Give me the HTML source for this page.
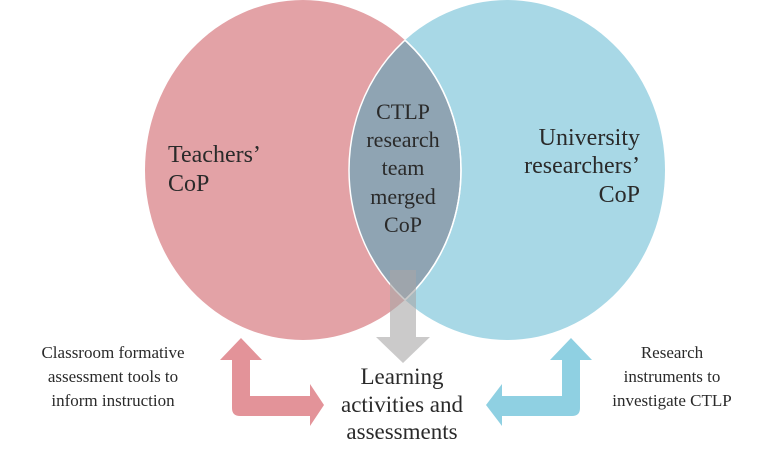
<!DOCTYPE html>
<html><head><style>
body{margin:0;background:#fff;}
svg text{font-family:"Liberation Serif",serif;fill:#2a2a2a;}
</style></head><body>
<svg width="772" height="448" viewBox="0 0 772 448" xmlns="http://www.w3.org/2000/svg">
<defs>
<clipPath id="cl"><ellipse cx="303" cy="170" rx="158" ry="170"/></clipPath>
</defs>
<ellipse cx="303" cy="170" rx="158" ry="170" fill="#e3a2a6"/>
<ellipse cx="507" cy="170" rx="158" ry="170" fill="#a8d8e6"/>
<ellipse cx="507" cy="170" rx="158" ry="170" fill="#8fa4b3" clip-path="url(#cl)"/>
<ellipse cx="507" cy="170" rx="158" ry="170" fill="none" stroke="#fff" stroke-width="1.5" clip-path="url(#cl)"/>
<ellipse cx="303" cy="170" rx="158" ry="170" fill="none" stroke="#fff" stroke-width="1.5" clip-path="url(#cr)"/>
<clipPath id="cr"><ellipse cx="507" cy="170" rx="158" ry="170"/></clipPath>
<ellipse cx="303" cy="170" rx="158" ry="170" fill="none" stroke="#fff" stroke-width="1.5" clip-path="url(#cr)"/>
<!-- gray arrow -->
<polygon points="390,270 416,270 416,337 430,337 403,363 376,337 390,337" fill="#a9a7a7" opacity="0.6"/>
<!-- pink L arrow -->
<path d="M232,360 L232,408 Q232,416 240,416 L310,416 L310,426 L324,405 L310,384 L310,396 L250,396 L250,360 L262,360 L241,338 L220,360 Z" fill="#e39399"/>
<!-- blue L arrow -->
<path d="M580,360 L580,408 Q580,416 572,416 L502,416 L502,426 L486,405 L502,384 L502,396 L562,396 L562,360 L550,360 L571,338 L592,360 Z" fill="#8fd0e2"/>
<g font-size="24">
<text x="168" y="162">Teachers’</text>
<text x="168" y="191">CoP</text>
<text x="640" y="145" text-anchor="end">University</text>
<text x="640" y="173" text-anchor="end">researchers’</text>
<text x="640" y="202" text-anchor="end">CoP</text>
</g>
<g font-size="22" text-anchor="middle">
<text x="403" y="119">CTLP</text>
<text x="403" y="147">research</text>
<text x="403" y="175">team</text>
<text x="403" y="204">merged</text>
<text x="403" y="232">CoP</text>
</g>
<g font-size="23" text-anchor="middle">
<text x="402" y="384">Learning</text>
<text x="402" y="412">activities and</text>
<text x="402" y="439">assessments</text>
</g>
<g font-size="17" text-anchor="middle">
<text x="113" y="358">Classroom formative</text>
<text x="113" y="382">assessment tools to</text>
<text x="113" y="406">inform instruction</text>
<text x="672" y="358">Research</text>
<text x="672" y="382">instruments to</text>
<text x="672" y="406">investigate CTLP</text>
</g>
</svg>
</body></html>
